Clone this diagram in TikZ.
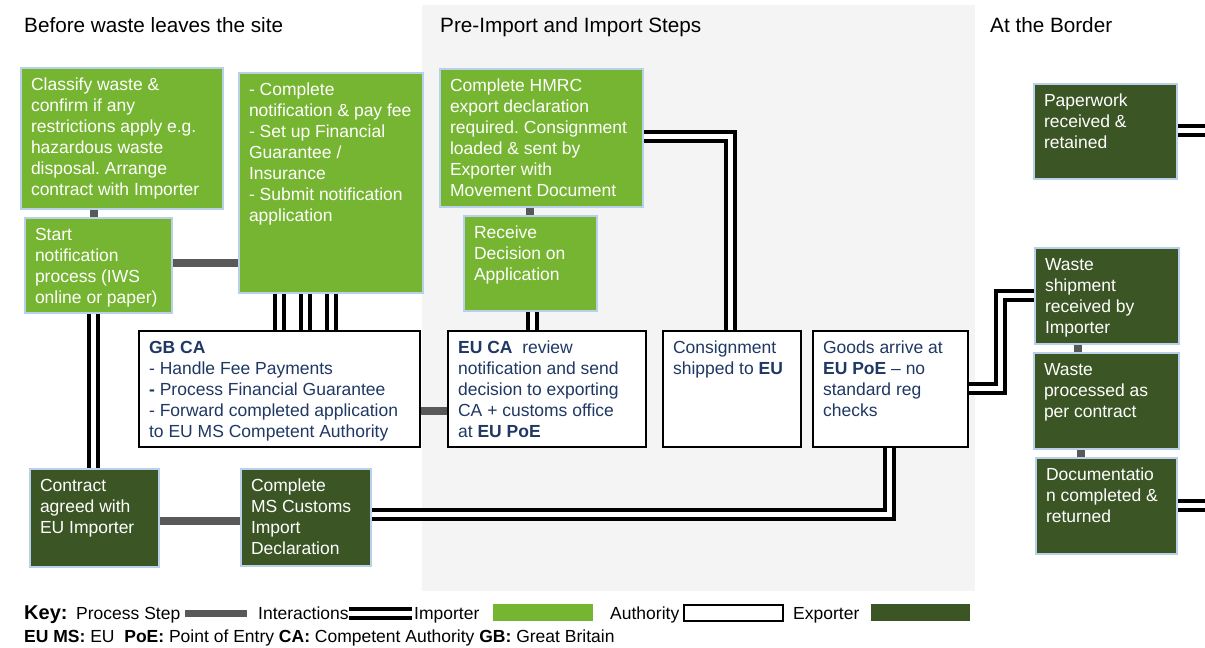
\documentclass[tikz,border=0pt]{standalone}
\usepackage{fontspec}
\setmainfont{Liberation Sans}
\frenchspacing
\definecolor{impgreen}{HTML}{76B531}
\definecolor{expgreen}{HTML}{3B5524}
\definecolor{bordblue}{HTML}{B8D0EA}
\definecolor{navy}{HTML}{1F3864}
\definecolor{stepgray}{HTML}{595959}
\definecolor{panelgray}{HTML}{F4F4F4}
\newcommand\diagbody{\fontsize{17.5pt}{21pt}\selectfont\frenchspacing}
\newcommand\diaghead{\fontsize{20.7pt}{24pt}\selectfont}
\newcommand\boxtext[3]{\parbox[t][#2][t]{#1}{\vspace*{7.3pt}\raggedright\frenchspacing\strut #3}}
\tikzset{
  box/.style={anchor=north west, inner xsep=10pt, inner ysep=0pt, line width=2pt, font=\diagbody},
  imp/.style={box, fill=impgreen, draw=bordblue, text=white},
  expo/.style={box, fill=expgreen, draw=bordblue, text=white},
  auth/.style={box, fill=white, draw=black, text=navy, line width=2.2pt},
  pstep/.style={draw=stepgray, line width=8pt},
  inter/.style={draw=black, line width=4pt, double=white, double distance=5pt, line join=miter},
  head/.style={anchor=base west, inner sep=0pt, font=\diaghead},
  keytext/.style={anchor=base west, inner sep=0pt, font=\diagbody},
}
\begin{document}
\begin{tikzpicture}[x=1pt,y=-1pt]
\useasboundingbox (0,0) rectangle (1205,648);
\fill[white] (0,0) rectangle (1205,648);
\fill[panelgray] (422,5) rectangle (975,591);

% headers
\node[head] (h1) at (24,32.5) {Before waste leaves the site};
\node[head] (h2) at (440,32.5) {Pre-Import and Import Steps};
\node[head] (h3) at (990,32.5) {At the Border};

% left column
\node[imp] (cw) at (20,67) {\boxtext{182pt}{141pt}{Classify waste \&\\confirm if any\\restrictions apply e.g.\\hazardous waste\\disposal. Arrange\\contract with Importer}};
\node[imp] (sn) at (24,217) {\boxtext{127pt}{95pt}{Start\\notification\\process (IWS\\online or paper)}};
\node[imp] (cn) at (238,72) {\boxtext{164pt}{220pt}{- Complete\\notification \& pay fee\\- Set up Financial\\Guarantee /\\Insurance\\- Submit notification\\application}};
\node[auth] (gb) at (138,330) {\boxtext{261pt}{116pt}{\textbf{GB CA}\\- Handle Fee Payments\\\textbf{-} Process Financial Guarantee\\- Forward completed application\\to EU MS Competent Authority}};
\node[expo] (ca) at (29,468) {\boxtext{109pt}{98pt}{Contract\\agreed with\\EU Importer}};
\node[expo] (ms) at (240,468) {\boxtext{110pt}{97pt}{Complete\\MS Customs\\Import\\Declaration}};

% middle
\node[imp] (hm) at (439,68) {\boxtext{183pt}{138pt}{Complete HMRC\\export declaration\\required. Consignment\\loaded \& sent by\\Exporter with\\Movement Document}};
\node[imp] (rd) at (463,215) {\boxtext{113pt}{95pt}{Receive\\Decision on\\Application}};
\node[auth] (eu) at (447,330) {\boxtext{178pt}{116pt}{\textbf{EU CA}~ review\\notification and send\\decision to exporting\\CA + customs office\\at \textbf{EU PoE}}};
\node[auth] (cs) at (662,330) {\boxtext{118pt}{116pt}{Consignment\\shipped to \textbf{EU}}};
\node[auth] (ga) at (812,330) {\boxtext{135pt}{116pt}{Goods arrive at\\\textbf{EU PoE} -- no\\standard reg\\checks}};

% right column
\node[expo] (pw) at (1033,83) {\boxtext{123pt}{95pt}{Paperwork\\received \&\\retained}};
\node[expo] (ws) at (1034,247) {\boxtext{124pt}{96pt}{Waste\\shipment\\received by\\Importer}};
\node[expo] (wp) at (1033,352) {\boxtext{125pt}{96pt}{Waste\\processed as\\per contract}};
\node[expo] (dc) at (1035,457) {\boxtext{121pt}{96pt}{Documentatio\\n completed \&\\returned}};
\coordinate (pwout) at (1205,130);
\coordinate (dcout) at (1205,505);

% process step connectors
\draw[pstep] (cw.south -| 94,0) -- (sn.north -| 94,0);
\draw[pstep] (sn.east |- 0,263) -- (cn.west |- 0,263);
\draw[pstep] (hm.south -| 530,0) -- (rd.north -| 530,0);
\draw[pstep] (gb.east |- 0,411) -- (eu.west |- 0,411);
\draw[pstep] (ca.east |- 0,521) -- (ms.west |- 0,521);
\draw[pstep] (ws.south -| 1078,0) -- (wp.north -| 1078,0);
\draw[pstep] (wp.south -| 1081,0) -- (dc.north -| 1081,0);

% interactions
\draw[inter] (sn.south -| 93.5,0) -- (ca.north -| 93.5,0);
\draw[inter] (cn.south -| 279,0) -- (gb.north -| 279,0);
\draw[inter] (cn.south -| 305,0) -- (gb.north -| 305,0);
\draw[inter] (cn.south -| 331,0) -- (gb.north -| 331,0);
\draw[inter] (rd.south -| 532.5,0) -- (eu.north -| 532.5,0);
\draw[inter] (hm.east |- 0,136.5) -| (cs.north -| 730,0);
\draw[inter] (ms.east |- 0,514) -| (ga.south -| 889.5,0);
\draw[inter] (ga.east |- 0,388) -| (1000,295) -- (ws.west |- 0,295);
\draw[inter] (pw.east |- pwout) -- (pwout);
\draw[inter] (dc.east |- dcout) -- (dcout);

% key
\node[keytext, font=\fontsize{20pt}{24pt}\selectfont\bfseries] (kkey) at (24,619.5) {Key:};
\node[keytext] (kstep) at (76,619.5) {Process Step};
\draw[stepgray, line width=7pt] (185,613) -- (247,613);
\node[keytext] (kint) at (258,619.5) {Interactions};
\draw[inter] (349,613.5) -- (412,613.5);
\node[keytext] (kimp) at (414,619.5) {Importer};
\fill[impgreen] (493,604) rectangle (593,621);
\node[keytext] (kauth) at (610,619.5) {Authority};
\draw[black, line width=2pt, fill=white] (684,605) rectangle (783,621);
\node[keytext] (kexp) at (793,619.5) {Exporter};
\fill[expgreen] (871,604) rectangle (970,621);
\node[keytext] (kabbr) at (24,642) {\textbf{EU MS:} EU\ \ \textbf{PoE:} Point of Entry \textbf{CA:} Competent Authority \textbf{GB:} Great Britain};
\end{tikzpicture}
\end{document}
